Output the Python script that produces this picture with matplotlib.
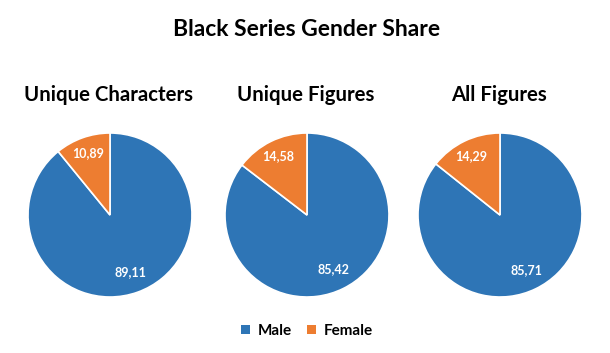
import numpy as np
import matplotlib.pyplot as plt
from matplotlib.patches import Patch

# data
titles = ['Unique Characters', 'Unique Figures', 'All Figures']
male = [89.11, 85.42, 85.71]
female = [10.89, 14.58, 14.29]
series = ['Male', 'Female']
colors = ['#2E75B6', '#ED7D31']

plt.rcParams['font.family'] = ['Lato', 'DejaVu Sans']

W, H = 610, 353
fig = plt.figure(figsize=(W / 100, H / 100), dpi=100)

# pie centres (px)
centers = [110, 307, 500]
cy, r = 215, 82


def fmt(v):
    return f'{v:.2f}'.replace('.', ',')


for i in range(3):
    ax = fig.add_axes([(centers[i] - r) / W, (H - cy - r) / H, 2 * r / W, 2 * r / H])
    vals = [male[i], female[i]]
    wedges, texts = ax.pie(vals, colors=colors, startangle=90, counterclock=False,
                           wedgeprops=dict(edgecolor='white', linewidth=1.2))
    ax.set_xlim(-1, 1)
    ax.set_ylim(-1, 1)
    ax.set_aspect('equal')
    ax.axis('off')
    dists = [0.74, 0.8]
    for w, v, d in zip(wedges, vals, dists):
        ang = np.deg2rad((w.theta1 + w.theta2) / 2)
        ax.text(d * np.cos(ang), d * np.sin(ang), fmt(v), color='white',
                fontsize=9, fontweight='bold', ha='center', va='center')
    fig.text((centers[i] - 1) / W, 1 - 95 / H, titles[i], fontsize=14.7,
             fontweight='bold', ha='center', va='center')

fig.text(307 / W, 1 - 30 / H, 'Black Series Gender Share', fontsize=16.5,
         fontweight='bold', ha='center', va='center')

handles = [Patch(facecolor=c, edgecolor='none') for c in colors]
fig.legend(handles, series, loc='center', bbox_to_anchor=(307 / W, 1 - 331 / H),
           ncol=2, frameon=False, prop=dict(weight='bold', size=11),
           handlelength=0.6, handleheight=0.6, handletextpad=0.5, columnspacing=1.0)

fig.savefig('out.png', dpi=100)
